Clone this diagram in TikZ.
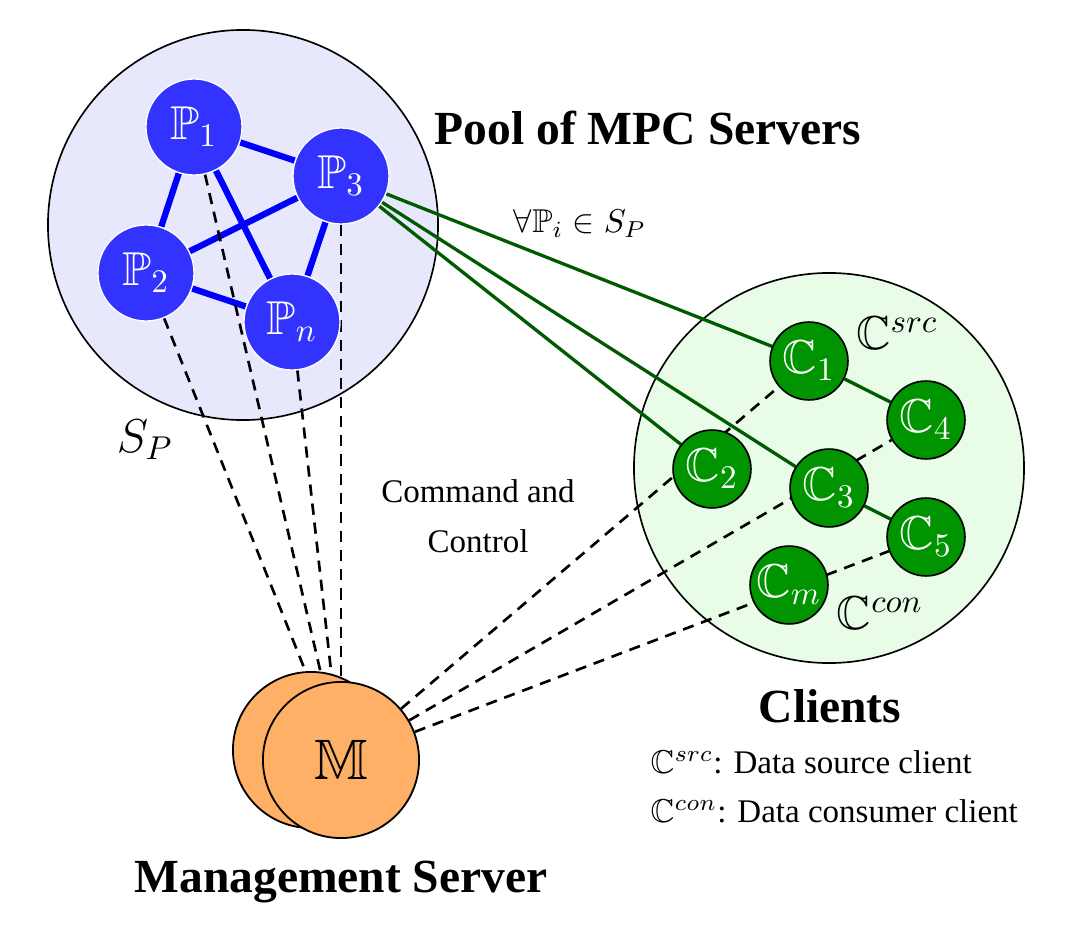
\documentclass[tikz,border=0pt]{standalone}
\usepackage{amssymb}
\usepackage{fontspec}
\setmainfont{Liberation Serif}
\pgfdeclarelayer{bgA}
\pgfdeclarelayer{bgB}
\pgfsetlayers{bgA,bgB,main}
\definecolor{pblue}{HTML}{3333FF}
\definecolor{poolfill}{HTML}{E8E8FC}
\definecolor{cgreen}{HTML}{009400}
\definecolor{clifill}{HTML}{E8FCE8}
\definecolor{dgreen}{HTML}{005A00}
\definecolor{morange}{HTML}{FFB067}
\begin{document}
\begin{tikzpicture}[x=0.303pt,y=-0.303pt,
  pnode/.style={circle, fill=pblue, draw=white, line width=0.4pt, text=white, minimum size=29.1pt, inner sep=0pt, font=\Large},
  cnode/.style={circle, fill=cgreen, draw=black, line width=0.5pt, text=white, minimum size=23.6pt, inner sep=0pt, font=\Large},
  mnode/.style={circle, fill=morange, draw=black, line width=0.55pt, minimum size=47.3pt, inner sep=0pt, font=\LARGE},
  region/.style={circle, draw=black, line width=0.5pt, minimum size=118.2pt, inner sep=0pt},
  pedge/.style={blue, line width=1.9pt},
  gedge/.style={dgreen, line width=1pt},
  cc/.style={dash pattern=on 3.4pt off 2.4pt, line width=0.8pt},
  titletext/.style={font=\Large\bfseries, inner sep=0pt},
  plain/.style={inner sep=0pt}
]
\useasboundingbox (0,0) rectangle (1068,935);

% server nodes
\node[pnode] (P1) at (194,127) {$\mathbb{P}_1$};
\node[pnode] (P3) at (341,176) {$\mathbb{P}_3$};
\node[pnode] (P2) at (146,273) {$\mathbb{P}_2$};
\node[pnode] (Pn) at (292,322) {$\mathbb{P}_n$};

% client nodes
\node[cnode] (C1) at (809,361) {$\mathbb{C}_1$};
\node[cnode] (C4) at (926,420) {$\mathbb{C}_4$};
\node[cnode] (C2) at (712,469) {$\mathbb{C}_2$};
\node[cnode] (C3) at (829,488) {$\mathbb{C}_3$};
\node[cnode] (C5) at (926,537) {$\mathbb{C}_5$};
\node[cnode] (Cm) at (789,585) {$\mathbb{C}_m$};

% management server
\node[mnode] (Mb) at (311,750) {};
\node[mnode] (M) at (341,760) {$\mathbb{M}$};

% regions
\begin{pgfonlayer}{bgA}
\node[region, fill=poolfill] (pool) at (243,225) {};
\node[region, fill=clifill] (clients) at (829,468) {};
\end{pgfonlayer}

% connectors
\begin{pgfonlayer}{bgB}
\draw[pedge] (P1) -- (P3);
\draw[pedge] (P1) -- (P2);
\draw[pedge] (P1) -- (Pn);
\draw[pedge] (P2) -- (P3);
\draw[pedge] (P2) -- (Pn);
\draw[pedge] (P3) -- (Pn);
\draw[cc] (P1) -- (M);
\draw[cc] (P2) -- (M);
\draw[cc] (Pn) -- (M);
\draw[cc] (P3) -- (M);
\draw[gedge] (P3) -- (C1);
\draw[gedge] (P3) -- (C3);
\draw[gedge] (P3) -- (C2);
\draw[gedge] (C1) -- (C4);
\draw[gedge] (C3) -- (C5);
\draw[cc] (M) -- (C1);
\draw[cc] (M) -- (C4);
\draw[cc] (M) -- (C5);
\end{pgfonlayer}

% labels
\node[titletext] (tpool) at (648,128) {Pool of MPC Servers};
\node[plain, font=\Large] (sp) at (145,440) {$S_P$};
\node[plain] (forall) at (580,224) {$\forall\mathbb{P}_i \in S_P$};
\node[plain, align=center] (cmd) at (478,516) {Command and\\[3pt]Control};
\node[plain, font=\Large] (lsrc) at (897,333) {$\mathbb{C}^{src}$};
\node[plain, font=\Large] (lcon) at (880,613) {$\mathbb{C}^{con}$};
\node[titletext] (tcli) at (830,706) {Clients};
\node[plain, align=left, anchor=west] (legend) at (650,787) {$\mathbb{C}^{src}$: Data source client\\[3pt]$\mathbb{C}^{con}$: Data consumer client};
\node[titletext] (tman) at (341,882) {Management Server};
\end{tikzpicture}
\end{document}
